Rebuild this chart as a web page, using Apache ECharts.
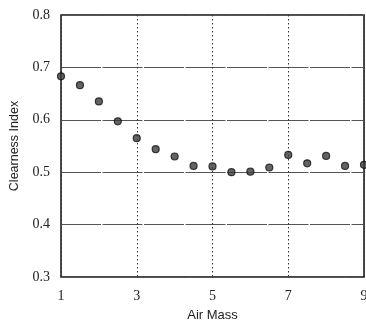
<!DOCTYPE html>
<html>
<head>
<meta charset="utf-8">
<script src="https://cdn.jsdelivr.net/npm/echarts@6/dist/echarts.min.js"></script>
<style>html,body{margin:0;padding:0;background:#fff;}#c{width:366px;height:322px;}</style>
</head>
<body>
<div id="c"></div>
<script>
var airMass = [1.0, 1.5, 2.0, 2.5, 3.0, 3.5, 4.0, 4.5, 5.0, 5.5, 6.0, 6.5, 7.0, 7.5, 8.0, 8.5, 9.0];
var clearness = [0.683, 0.666, 0.635, 0.597, 0.565, 0.544, 0.530, 0.512, 0.511, 0.500, 0.501, 0.509, 0.533, 0.517, 0.531, 0.512, 0.514];
var xTicks = [1, 3, 5, 7, 9];
var yTicks = [0.3, 0.4, 0.5, 0.6, 0.7, 0.8];

var pts = airMass.map(function (x, i) { return [x, clearness[i]]; });
var chart = echarts.init(document.getElementById('c'), null, {renderer: 'canvas'});
chart.setOption({
  animation: false,
  backgroundColor: '#ffffff',
  grid: {left: 61, top: 15, right: 2, bottom: 45, show: true, borderColor: '#111', borderWidth: 1.5,
    backgroundColor: 'transparent', outerBoundsMode: 'none', containLabel: false},
  xAxis: {
    type: 'value', min: xTicks[0], max: xTicks[xTicks.length - 1], interval: 2,
    name: 'Air Mass', nameLocation: 'middle', nameGap: 32,
    nameTextStyle: {fontFamily: 'Liberation Sans', fontSize: 13, color: '#222'},
    axisLine: {show: false}, axisTick: {show: false},
    axisLabel: {fontFamily: 'Liberation Serif', fontSize: 14, color: '#222', margin: 12},
    splitLine: {show: true, lineStyle: {type: [1.5, 2.5], color: '#333', width: 1}}
  },
  yAxis: {
    type: 'value', min: yTicks[0], max: yTicks[yTicks.length - 1], interval: 0.1,
    name: 'Clearness Index', nameLocation: 'middle', nameGap: 40,
    nameTextStyle: {fontFamily: 'Liberation Sans', fontSize: 12.5, color: '#222'},
    axisLine: {show: false}, axisTick: {show: false},
    axisLabel: {fontFamily: 'Liberation Serif', fontSize: 14, color: '#222', margin: 11,
      formatter: function (v) { return v.toFixed(1); }},
    splitLine: {show: true, lineStyle: {type: [40, 1.5], color: '#555', width: 1}}
  },
  series: [{
    type: 'scatter', data: pts, symbol: 'circle', symbolSize: 7, clip: false,
    itemStyle: {color: '#3c3c3c', borderColor: '#111', borderWidth: 1.2}
  }]
});
</script>
</body>
</html>
